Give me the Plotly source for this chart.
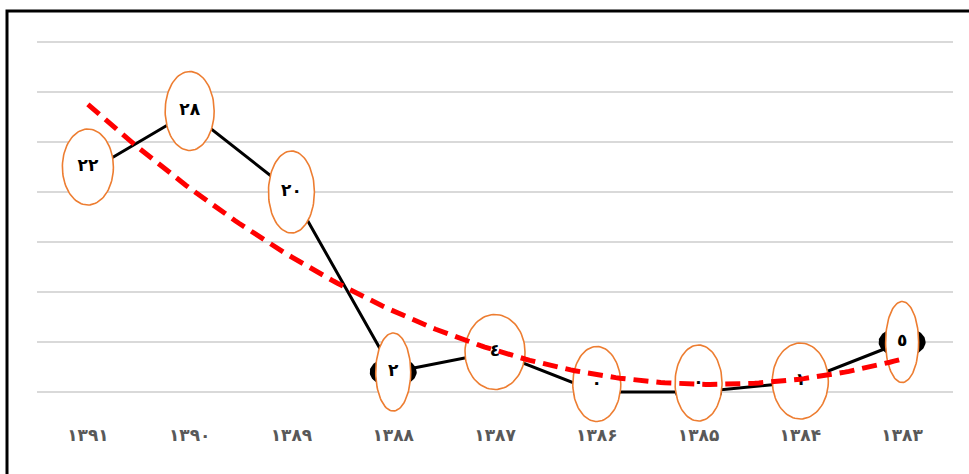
import numpy as np
import plotly.graph_objects as go

# ---- data -------------------------------------------------------------
years = ["۱۳۹۱", "۱۳۹۰", "۱۳۸۹", "۱۳۸۸", "۱۳۸۷", "۱۳۸۶", "۱۳۸۵", "۱۳۸۴", "۱۳۸۳"]
values = [22, 28, 20, 2, 4, 0, 0, 1, 5]

# ---- label styling (pixel sizes of the callout ellipses) --------------
label_w = [51, 49, 46, 35, 60, 48, 47, 56, 33]
label_h = [76, 79, 82, 78, 75, 75, 76, 76, 81]
label_lift = [5, 1, 0, 0, 0, 8, 9, 1, 0]      # px raised above the point
marker_w, marker_h = 47, 30

# ---- layout geometry ---------------------------------------------------
W, H = 969, 474
ML, MR, MT, MB = 37, 16, 32, 32
X_RANGE = [-0.5, len(values) - 0.5]
Y_RANGE = [-5, 36]
PX_X = (W - ML - MR) / (X_RANGE[1] - X_RANGE[0])
PX_Y = (H - MT - MB) / (Y_RANGE[1] - Y_RANGE[0])

AR_DIGITS = str.maketrans("0123456789", "٠١٢٣٤٥٦٧٨٩")


def to_arabic(n):
    return str(n).translate(AR_DIGITS)


def ellipse(cx, cy, w_px, h_px, n=90):
    t = np.linspace(0, 2 * np.pi, n)
    return (cx + (w_px / 2) / PX_X * np.cos(t),
            cy + (h_px / 2) / PX_Y * np.sin(t))


idx = np.arange(len(values))
fig = go.Figure()

# main series
fig.add_trace(go.Scatter(
    x=idx, y=values, mode="lines",
    line=dict(color="black", width=3),
    hoverinfo="skip", showlegend=False))

# black point markers (flattened)
for i, v in zip(idx, values):
    ex, ey = ellipse(i, v, marker_w, marker_h)
    fig.add_trace(go.Scatter(
        x=ex, y=ey, mode="lines", fill="toself",
        fillcolor="black", line=dict(color="black", width=0),
        hoverinfo="skip", showlegend=False))

# callout ellipses behind the value labels
label_y = [v + lift / PX_Y for v, lift in zip(values, label_lift)]
for i, ly, w, h in zip(idx, label_y, label_w, label_h):
    ex, ey = ellipse(i, ly, w, h)
    fig.add_trace(go.Scatter(
        x=ex, y=ey, mode="lines", fill="toself",
        fillcolor="white", line=dict(color="#ED7D31", width=1.6),
        hoverinfo="skip", showlegend=False))

# value labels
fig.add_trace(go.Scatter(
    x=idx, y=label_y, mode="text",
    text=[to_arabic(v) for v in values],
    textposition="middle center",
    textfont=dict(family="DejaVu Sans", size=17, color="black", weight="bold"),
    hoverinfo="skip", showlegend=False, cliponaxis=False))

# second-order polynomial trend line
coef = np.polyfit(idx, values, 2)
tx = np.linspace(idx[0], idx[-1], 200)
fig.add_trace(go.Scatter(
    x=tx, y=np.polyval(coef, tx), mode="lines",
    line=dict(color="#FF0000", width=5, dash="15px,8px"),
    hoverinfo="skip", showlegend=False))

axis_px = 423
fig.update_layout(
    width=W, height=H,
    margin=dict(l=ML, r=MR, t=MT, b=MB),
    paper_bgcolor="white", plot_bgcolor="white",
    xaxis=dict(
        range=X_RANGE, tickmode="array", tickvals=idx, ticktext=years,
        showgrid=False, zeroline=False, showline=False, ticks="",
        anchor="free", position=(H - MB - axis_px) / (H - MT - MB),
        tickfont=dict(family="DejaVu Sans", size=17, color="#595959",
                      weight="bold")),
    yaxis=dict(
        range=Y_RANGE, tickmode="array", tickvals=list(range(0, 36, 5)),
        showticklabels=False, showgrid=True, gridcolor="#D9D9D9",
        gridwidth=2, zeroline=False, showline=False, ticks=""),
    shapes=[dict(
        type="rect", xref="paper", yref="paper",
        x0=(7 - ML) / (W - ML - MR), x1=(W + 10 - ML) / (W - ML - MR),
        y0=(H - MB - (H + 10)) / (H - MT - MB),
        y1=(H - MB - 11) / (H - MT - MB),
        line=dict(color="black", width=3), fillcolor="rgba(0,0,0,0)",
        layer="above")],
)

fig.write_html("out.html")
